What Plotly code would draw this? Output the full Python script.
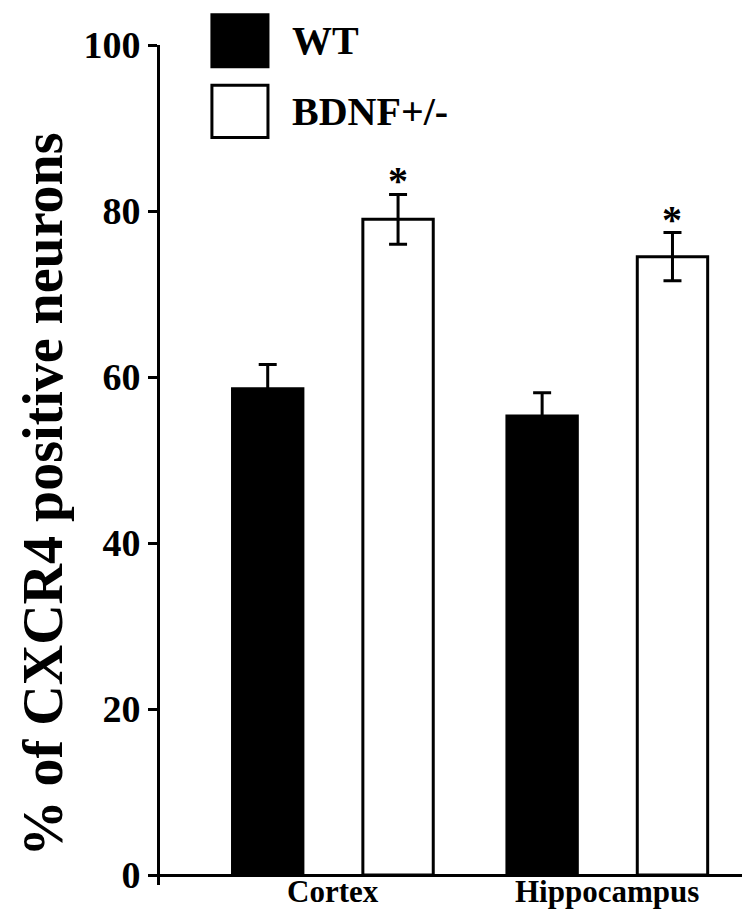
import plotly.graph_objects as go

# data
regions = ["Cortex", "Hippocampus"]
groups = ["WT", "BDNF+/-"]
wt_mean = [58.6, 55.3]
wt_err = [2.9, 2.8]
bdnf_mean = [79.0, 74.5]
bdnf_err = [3.0, 2.9]
bdnf_sig = ["*", "*"]
y_ticks = [0, 20, 40, 60, 80, 100]

FONT = "Liberation Serif"
offset = 0.2375  # bar centre offset inside a group

fig = go.Figure()
fig.add_trace(go.Bar(
    x=regions, y=wt_mean, name=groups[0],
    marker=dict(color="black", line=dict(color="black", width=3)),
    error_y=dict(type="data", array=wt_err, color="black", thickness=3, width=9),
))
fig.add_trace(go.Bar(
    x=regions, y=bdnf_mean, name=groups[1],
    marker=dict(color="white", line=dict(color="black", width=3)),
    error_y=dict(type="data", array=bdnf_err, color="black", thickness=3, width=9),
))

annotations = []
# category labels under the axis
for r in regions:
    annotations.append(dict(x=r, y=0, yref="y", text=r, showarrow=False,
                            yanchor="top", yshift=3,
                            font=dict(family=FONT, size=31, color="black", weight="bold")))
# significance stars
for i, s in enumerate(bdnf_sig):
    annotations.append(dict(x=i + offset, y=bdnf_mean[i] + bdnf_err[i], text=s,
                            showarrow=False, yanchor="bottom", yshift=-11,
                            font=dict(family=FONT, size=40, color="black", weight="bold")))
# y title
annotations.append(dict(x=0, xref="paper", xshift=-117, xanchor="center",
                        y=0.465, yref="paper", yanchor="middle",
                        text="% of CXCR4 positive neurons", textangle=-90,
                        showarrow=False,
                        font=dict(family=FONT, size=56, color="black", weight="bold")))

# hand-drawn legend (big square swatches)
shapes = [
    dict(type="rect", xref="paper", yref="paper", x0=0.088, x1=0.183, y0=0.974, y1=1.036,
         fillcolor="black", line=dict(color="black", width=3)),
    dict(type="rect", xref="paper", yref="paper", x0=0.088, x1=0.183, y0=0.890, y1=0.952,
         fillcolor="white", line=dict(color="black", width=3)),
]
for name, yy in zip(groups, [1.005, 0.921]):
    annotations.append(dict(x=0.22, y=yy, xref="paper", yref="paper", text=name,
                            showarrow=False, xanchor="left", yanchor="middle",
                            font=dict(family=FONT, size=40, color="black", weight="bold")))

# page body has an 8px margin, so the figure is sized to fit the window
fig.update_layout(
    width=742, height=913,
    margin=dict(l=152, r=0, t=37, b=36, autoexpand=False),
    paper_bgcolor="white", plot_bgcolor="white",
    barmode="group", bargap=0.05, bargroupgap=0.46,
    showlegend=False,
    annotations=annotations, shapes=shapes,
)
fig.update_xaxes(range=[-0.63, 1.52], showticklabels=False, showgrid=False,
                 showline=False, zeroline=False, ticks="", automargin=False)
fig.update_yaxes(range=[-1.2, 100], tickvals=y_ticks, ticks="outside", ticklen=9, tickwidth=3,
                 tickcolor="black", showline=True, linewidth=3, linecolor="black",
                 showgrid=False, zeroline=True, zerolinecolor="black", zerolinewidth=3,
                 automargin=False,
                 tickfont=dict(family=FONT, size=38, color="black", weight="bold"))

fig.write_html("out.html")
